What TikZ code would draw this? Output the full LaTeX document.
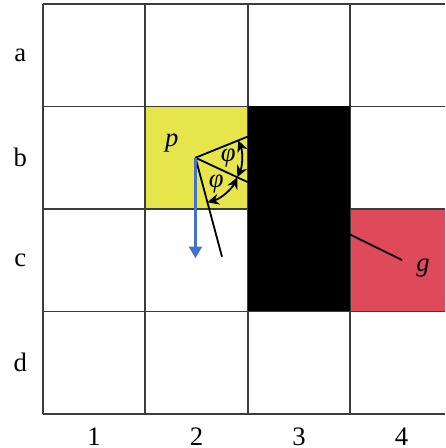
\documentclass[tikz,border=0pt]{standalone}
\usepackage{fontspec}
\setmainfont{Liberation Serif}
\usetikzlibrary{arrows.meta}
\definecolor{cellyellow}{RGB}{230,230,76}
\definecolor{cellred}{RGB}{222,74,90}
\definecolor{rayblue}{RGB}{68,114,196}
\definecolor{gridgray}{RGB}{60,60,60}

\begin{document}
\begin{tikzpicture}[>={Stealth[length=3.2pt,width=3pt]},
  lbl/.style={font=\fontsize{7.4}{9}\selectfont},
  gridline/.style={gridgray,line width=0.45pt},
  ray/.style={line width=0.5pt}]
\useasboundingbox (-0.417,-0.332) rectangle (3.925,4.039);
\fill[cellyellow] (1,2) rectangle (2,3);
\fill[cellred] (3,1) rectangle (3.925,2);
\foreach \y in {0,...,4}
  \draw[gridline] (0,\y) -- (3.925,\y);
\foreach \x in {0,...,3}
  \draw[gridline] (\x,0) -- (\x,4);
\fill[black] (2,1) rectangle (3,3);
\foreach \r [count=\i] in {d,c,b,a}
  \node[lbl] (row\r) at (-0.22,\i-0.5) {\r};
\foreach \c in {1,...,4}
  \node[lbl] (col\c) at (\c-0.5,-0.224) {\c};
% rays from p
\coordinate (o) at (1.49,2.5);
\coordinate (hitU) at (2,2.706);
\coordinate (hitM) at (2,2.262);
\coordinate (endL) at (1.749,1.534);
\coordinate (endB) at (1.49,1.52);
\draw[ray] (o) -- (hitU);
\draw[ray] (o) -- (hitM);
\draw[ray] (o) -- (endL);
\draw[rayblue,line width=0.6pt,-{Triangle[length=3.2pt,width=3.6pt]}] (o) -- (endB);
\draw[ray,<->] (o) ++(22:0.45) arc[start angle=22,end angle=-25,radius=0.45];
\draw[ray,<->] (o) ++(-25:0.45) arc[start angle=-25,end angle=-75,radius=0.45];
\node[lbl] (phiU) at ([shift={(0:0.32)}]o) {\textit{φ}};
\node[lbl] (phiL) at ([shift={(-52:0.33)}]o) {\textit{φ}};
\node[lbl] (lblp) at (1.26,2.64) {\textit{p}};
% goal
\coordinate (gwall) at (3,1.75);
\coordinate (gtip) at (3.505,1.502);
\draw[ray] (gwall) -- (gtip);
\node[lbl] (lblg) at (3.71,1.42) {\textit{g}};
\end{tikzpicture}
\end{document}
